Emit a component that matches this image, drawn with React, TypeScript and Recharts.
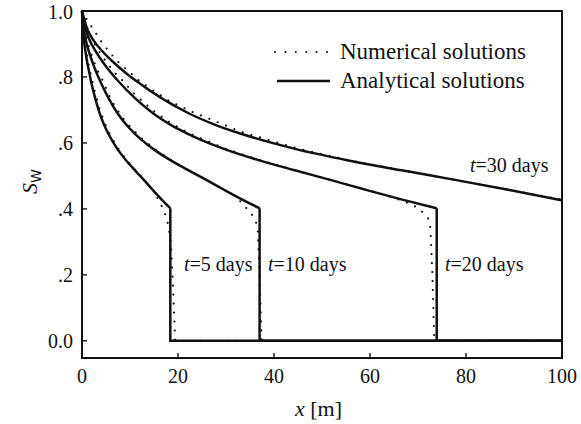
import { LineChart, Line, XAxis, YAxis } from "recharts";

// analytical solutions, S_w vs x [m]
const an5X = [0, 0.18, 0.37, 0.74, 1.1, 1.5, 1.84, 2.76, 3.68, 4.6, 5.52, 7.36, 9.2, 11.04, 12.88, 14.72, 16.56, 18.4];
const an5S = [1.0, 0.945, 0.915, 0.875, 0.843, 0.815, 0.79, 0.735, 0.69, 0.655, 0.627, 0.582, 0.547, 0.517, 0.488, 0.458, 0.429, 0.402];
const an10X = [0, 0.37, 0.74, 1.48, 2.22, 2.96, 3.7, 5.55, 7.4, 9.25, 11.1, 14.8, 18.5, 22.2, 25.9, 29.6, 33.3, 37.0];
const an10S = [1.0, 0.945, 0.915, 0.875, 0.843, 0.815, 0.79, 0.735, 0.69, 0.655, 0.627, 0.582, 0.547, 0.517, 0.488, 0.458, 0.429, 0.402];
const an20X = [0, 0.74, 1.48, 2.96, 4.43, 5.91, 7.39, 11.09, 14.78, 18.48, 22.17, 29.56, 36.95, 44.34, 51.73, 59.12, 66.51, 73.9];
const an20S = [1.0, 0.945, 0.915, 0.875, 0.843, 0.815, 0.79, 0.735, 0.69, 0.655, 0.627, 0.582, 0.547, 0.517, 0.488, 0.458, 0.429, 0.402];
const an30X = [0, 1.11, 2.22, 4.44, 6.66, 8.88, 11.1, 16.65, 22.2, 27.75, 33.3, 44.4, 55.5, 66.6, 77.7, 88.8, 100];
const an30S = [1.0, 0.945, 0.915, 0.875, 0.843, 0.815, 0.79, 0.735, 0.69, 0.655, 0.627, 0.582, 0.547, 0.517, 0.488, 0.458, 0.426];

// shock fronts (vertical drop, then zero)
const front5X = [18.4, 18.4, 100];
const front10X = [37.0, 37.0, 100];
const front20X = [73.9, 73.9, 100];
const frontS = [0.402, 0, 0];

// numerical solutions
const num5X = [0, 0.3, 0.7, 1.2, 1.8, 2.4, 3.1, 3.8, 5.0, 5.8, 6.9, 7.9, 9.3, 11.1, 13.0, 14.8, 15.9, 17.1, 17.8, 18.5, 19.0, 19.3, 19.4, 100];
const num5S = [1.0, 0.94, 0.895, 0.852, 0.808, 0.77, 0.732, 0.695, 0.652, 0.626, 0.598, 0.575, 0.548, 0.518, 0.487, 0.457, 0.428, 0.394, 0.363, 0.3, 0.15, 0.04, 0, 0];
const num10X = [0, 0.5, 1.3, 2.2, 3.2, 4.4, 5.6, 7.0, 8.5, 10.3, 12.2, 14.8, 18.5, 22.2, 25.9, 29.6, 32.0, 34.1, 35.9, 36.6, 37.0, 37.3, 37.4, 100];
const num10S = [1.0, 0.948, 0.898, 0.858, 0.82, 0.787, 0.745, 0.708, 0.675, 0.645, 0.617, 0.585, 0.548, 0.517, 0.488, 0.458, 0.439, 0.405, 0.374, 0.344, 0.2, 0.05, 0, 0];
const num20X = [0, 0.8, 1.9, 3.0, 4.2, 5.5, 7.0, 8.6, 10.4, 12.3, 14.8, 18.5, 22.2, 29.6, 37, 44.4, 51.8, 59.2, 64, 68.8, 70.5, 72.2, 72.6, 73.0, 73.3, 73.4, 100];
const num20S = [1.0, 0.958, 0.922, 0.89, 0.862, 0.837, 0.81, 0.787, 0.756, 0.73, 0.698, 0.66, 0.63, 0.584, 0.548, 0.517, 0.488, 0.458, 0.439, 0.413, 0.397, 0.37, 0.34, 0.2, 0.05, 0, 0];
const num30X = [0, 1.25, 2.8, 4.2, 5.9, 7.7, 9.7, 11.8, 13.9, 16.0, 18.1, 22.3, 33.3, 44.4, 55.5, 66.6, 77.7, 88.8, 100];
const num30S = [1.0, 0.968, 0.935, 0.903, 0.872, 0.843, 0.817, 0.79, 0.768, 0.748, 0.728, 0.698, 0.633, 0.585, 0.548, 0.517, 0.488, 0.458, 0.428];

const xTicks = [0, 20, 40, 60, 80, 100];
const yTicks = [0, 0.2, 0.4, 0.6, 0.8, 1.0];
const yTickLabels = ["0.0", ".2", ".4", ".6", ".8", "1.0"];
const innerXTicks = [20, 40, 60, 80];
const innerYTicks = [0, 0.2, 0.4, 0.6, 0.8];

const X_MIN = 0;
const X_MAX = 100;
const Y_MIN = -0.052;
const Y_MAX = 1.0;
const FONT = "'Liberation Serif', 'Times New Roman', serif";

// chart geometry
const W = 581;
const H = 424;
const MARGIN = { top: 11, right: 19, bottom: 0, left: 0 };
const Y_AXIS_W = 82;
const X_AXIS_H = 66;
const PLOT_L = MARGIN.left + Y_AXIS_W;
const PLOT_R = W - MARGIN.right;
const PLOT_T = MARGIN.top;
const PLOT_B = H - MARGIN.bottom - X_AXIS_H;
const px = (x: number) => PLOT_L + ((x - X_MIN) / (X_MAX - X_MIN)) * (PLOT_R - PLOT_L);
const py = (s: number) => PLOT_T + ((Y_MAX - s) / (Y_MAX - Y_MIN)) * (PLOT_B - PLOT_T);
const TICK_LEN = 5;
const FRAME_W = 2;

const zip = (xs: number[], ys: number[]) => xs.map((x, i) => ({ x, s: ys[i] }));

const analytical = [
  zip(an5X, an5S),
  zip(an10X, an10S),
  zip(an20X, an20S),
  zip(an30X, an30S),
];
const fronts = [zip(front5X, frontS), zip(front10X, frontS), zip(front20X, frontS)];
const numerical = [
  zip(num5X, num5S),
  zip(num10X, num10S),
  zip(num20X, num20S),
  zip(num30X, num30S),
];

const tickStyle = { fontFamily: FONT, fontSize: 20, fill: "#111" };

export default function App() {
  return (
    <div style={{ position: "absolute", left: 0, top: 0, width: W, height: H, background: "#fff" }}>
      <LineChart width={W} height={H} margin={MARGIN}>
        <XAxis
          type="number"
          dataKey="x"
          domain={[X_MIN, X_MAX]}
          ticks={xTicks}
          axisLine={false}
          tickLine={false}
          tickSize={0}
          tickMargin={11}
          height={X_AXIS_H}
          tick={tickStyle}
        />
        <YAxis
          type="number"
          dataKey="s"
          domain={[Y_MIN, Y_MAX]}
          ticks={yTicks}
          axisLine={false}
          tickLine={false}
          tickSize={0}
          tickMargin={9}
          width={Y_AXIS_W}
          tick={tickStyle}
          tickFormatter={(v: number) => yTickLabels[yTicks.indexOf(v)] ?? String(v)}
        />
        {numerical.map((d, i) => (
          <Line
            key={`num-${i}`}
            data={d}
            dataKey="s"
            type="linear"
            stroke="#111"
            strokeWidth={2.2}
            strokeDasharray="0 9"
            strokeLinecap="round"
            dot={false}
            activeDot={false}
            isAnimationActive={false}
          />
        ))}
        {analytical.map((d, i) => (
          <Line
            key={`an-${i}`}
            data={d}
            dataKey="s"
            type="monotone"
            stroke="#111"
            strokeWidth={2.5}
            dot={false}
            activeDot={false}
            isAnimationActive={false}
          />
        ))}
        {fronts.map((d, i) => (
          <Line
            key={`fr-${i}`}
            data={d}
            dataKey="s"
            type="linear"
            stroke="#111"
            strokeWidth={2.5}
            dot={false}
            activeDot={false}
            isAnimationActive={false}
          />
        ))}
      </LineChart>
      {/* plot frame */}
      <div
        style={{
          position: "absolute",
          left: PLOT_L - FRAME_W / 2,
          top: PLOT_T - FRAME_W / 2,
          width: PLOT_R - PLOT_L + FRAME_W,
          height: PLOT_B - PLOT_T + FRAME_W,
          border: `${FRAME_W}px solid #111`,
          boxSizing: "border-box",
          pointerEvents: "none",
        }}
      />
      <svg
        width={W}
        height={H}
        style={{ position: "absolute", left: 0, top: 0, pointerEvents: "none" }}
        fontFamily={FONT}
        fill="#111"
      >
        {/* inward ticks */}
        {innerXTicks.map((t) => (
          <path key={`xt-${t}`} d={`M${px(t)},${PLOT_B}V${PLOT_B - TICK_LEN}`} stroke="#111" strokeWidth={1.4} />
        ))}
        {innerYTicks.map((t) => (
          <path key={`yt-${t}`} d={`M${PLOT_L},${py(t)}H${PLOT_L + TICK_LEN}`} stroke="#111" strokeWidth={1.4} />
        ))}

        {/* legend */}
        <line x1={275} y1={52} x2={328} y2={52} stroke="#111" strokeWidth={2} strokeDasharray="0 10.4" strokeLinecap="round" />
        <text x={340} y={59} fontSize={23}>Numerical solutions</text>
        <line x1={277} y1={81} x2={330} y2={81} stroke="#111" strokeWidth={2.5} />
        <text x={340} y={88} fontSize={23}>Analytical solutions</text>

        {/* curve labels */}
        <text x={184} y={271} fontSize={20}><tspan fontStyle="italic">t</tspan>=5 days</text>
        <text x={268} y={271} fontSize={20}><tspan fontStyle="italic">t</tspan>=10 days</text>
        <text x={445} y={271} fontSize={20}><tspan fontStyle="italic">t</tspan>=20 days</text>
        <text x={470} y={172} fontSize={20}><tspan fontStyle="italic">t</tspan>=30 days</text>

        {/* axis titles */}
        <text x={295} y={416} fontSize={22}><tspan fontStyle="italic">x</tspan> [m]</text>
        <text transform="translate(37,194) rotate(-90)" fontSize={22}>
          <tspan fontStyle="italic">S</tspan>
          <tspan dy={4} fontSize={14} fontFamily="'DejaVu Sans', sans-serif">W</tspan>
        </text>
      </svg>
    </div>
  );
}
